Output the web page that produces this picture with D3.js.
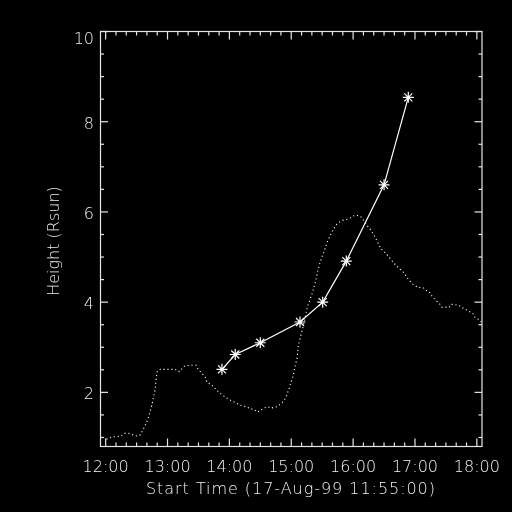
<!DOCTYPE html>
<html>
<head>
<meta charset="utf-8">
<script src="https://cdn.jsdelivr.net/npm/d3@7"></script>
<style>
  body { margin: 0; background: #000; }
  svg { display: block; will-change: transform; }
  text { font-family: "DejaVu Sans", sans-serif; font-weight: 200; fill: #f2f2f2; }
</style>
</head>
<body>
<svg id="chart" width="512" height="512"></svg>
<script>
// minutes after 11:55 start time, heights in Rsun
let trackMin = [117.8, 130.7, 155.0, 193.5, 215.5, 238.4, 275.0, 298.5];
let trackH = [2.51, 2.84, 3.10, 3.56, 4.00, 4.91, 6.60, 8.54];

// dotted profile (scaled to the same axes)
let profMin = [5.8, 9.2, 12.1, 16.0, 19.9, 23.3, 27.2, 30.1, 33.5, 35.9, 38.8, 41.2, 43.6, 45.6, 47.5, 49.0,
  50.2, 51.2, 52.2, 53.2, 53.6, 54.3, 55.1, 58.0, 63.8, 69.6, 74.9, 76.4, 81.3, 87.1, 92.9, 94.3, 97.2,
  99.7, 102.3, 103.3, 106.9, 109.4, 111.7, 114.9, 118.1, 121.4, 124.0, 127.3, 132.1, 134.6, 138.5, 141.8,
  144.0, 149.8, 152.1, 154.7, 157.9, 162.7, 165.1, 170.9, 175.7, 178.0, 179.9, 181.2, 183.1, 184.5, 186.4,
  187.7, 188.6, 189.6, 190.9, 191.2, 191.8, 192.8, 194.4, 196.4, 198.3, 200.6, 202.7, 204.8, 207.1, 208.7,
  210.3, 212.2, 214.5, 216.8, 219.4, 221.6, 224.2, 226.5, 229.1, 233.9, 240.3, 245.2, 248.5, 253.3, 258.2,
  262.1, 266.2, 271.8, 276.9, 280.8, 284.7, 287.9, 290.5, 293.1, 295.3, 297.0, 299.2, 302.8, 305.7, 307.3,
  313.1, 314.7, 318.9, 320.3, 323.8, 326.7, 329.3, 330.9, 334.4, 338.3, 339.7, 343.1, 348.0, 349.4, 354.2,
  356.7, 360.0, 362.3, 363.2, 366.4, 368.8, 369.7];
let profH = [0.96, 1.00, 1.01, 1.02, 1.03, 1.09, 1.09, 1.07, 1.04, 1.03, 1.06, 1.17, 1.28, 1.39, 1.52, 1.65,
  1.76, 1.87, 1.98, 2.09, 2.22, 2.36, 2.47, 2.51, 2.51, 2.51, 2.50, 2.46, 2.58, 2.60, 2.60, 2.53, 2.45,
  2.39, 2.31, 2.22, 2.18, 2.13, 2.07, 2.00, 1.94, 1.89, 1.85, 1.81, 1.76, 1.72, 1.70, 1.68,
  1.65, 1.61, 1.56, 1.59, 1.65, 1.68, 1.65, 1.68, 1.76, 1.82, 1.89, 1.98, 2.09, 2.21, 2.33,
  2.45, 2.57, 2.66, 2.78, 2.89, 3.03, 3.12, 3.27, 3.45, 3.65, 3.89, 4.03, 4.16, 4.33, 4.48,
  4.65, 4.82, 4.99, 5.12, 5.30, 5.42, 5.54, 5.64, 5.73, 5.81, 5.84, 5.91, 5.93, 5.88, 5.71,
  5.60, 5.45, 5.19, 5.08, 4.97, 4.86, 4.79, 4.73, 4.68, 4.62, 4.55, 4.49, 4.40, 4.36, 4.33,
  4.32, 4.27, 4.23, 4.17, 4.07, 4.01, 3.95, 3.89, 3.89, 3.89, 3.95, 3.95, 3.92, 3.89, 3.84,
  3.80, 3.77, 3.72, 3.66, 3.62, 3.57, 3.53];

let xTickMin = [5, 65, 125, 185, 245, 305, 365];
let xTickLabels = ['12:00', '13:00', '14:00', '15:00', '16:00', '17:00', '18:00'];
let yTicks = [2, 4, 6, 8, 10];

let svg = d3.select('#chart');
let pLeft = 100.5, pRight = 482, pTop = 31.5, pBottom = 446.5;
let fg = '#e6e6e6';

let x = d3.scaleLinear().domain([0, 370]).range([pLeft, pRight]);
let y = d3.scaleLinear().domain([0.8, 10]).range([pBottom, pTop]);

// frame
svg.append('rect')
  .attr('x', pLeft).attr('y', pTop)
  .attr('width', pRight - pLeft).attr('height', pBottom - pTop)
  .attr('fill', 'none').attr('stroke', fg).attr('stroke-width', 1.2);

let minorX = d3.range(5, 366, 10);
let minorY = d3.range(1, 10.01, 0.5);

let ticks = svg.append('g').attr('stroke', fg).attr('stroke-width', 1.2);
minorX.forEach(m => {
  let len = xTickMin.includes(m) ? 8 : 4;
  ticks.append('line').attr('x1', x(m)).attr('x2', x(m)).attr('y1', pBottom).attr('y2', pBottom - len);
  ticks.append('line').attr('x1', x(m)).attr('x2', x(m)).attr('y1', pTop).attr('y2', pTop + len);
});
minorY.forEach(v => {
  let len = yTicks.includes(v) ? 7.5 : 3.5;
  ticks.append('line').attr('y1', y(v)).attr('y2', y(v)).attr('x1', pLeft).attr('x2', pLeft + len);
  ticks.append('line').attr('y1', y(v)).attr('y2', y(v)).attr('x1', pRight).attr('x2', pRight - len);
});

// tick labels
svg.append('g').selectAll('text')
  .data(xTickMin)
  .join('text')
  .attr('x', d => x(d))
  .attr('y', 472)
  .attr('text-anchor', 'middle')
  .attr('font-size', 16)
  .text((d, i) => xTickLabels[i]);

svg.append('g').selectAll('text')
  .data(yTicks)
  .join('text')
  .attr('x', 94)
  .attr('y', d => Math.max(y(d) + 1, pTop + 6) + 6)
  .attr('text-anchor', 'end')
  .attr('font-size', 16)
  .text(d => d);

svg.append('text')
  .attr('x', 146).attr('y', 494)
  .attr('font-size', 16)
  .attr('textLength', 289)
  .attr('lengthAdjust', 'spacing')
  .text('Start Time (17-Aug-99 11:55:00)');

svg.append('text')
  .attr('transform', 'translate(59,241) rotate(-90)')
  .attr('text-anchor', 'middle')
  .attr('font-size', 16)
  .text('Height (Rsun)');

// dotted profile
let line = d3.line().x(d => x(d[0])).y(d => y(d[1]));
svg.append('path')
  .datum(profMin.map((m, i) => [m, profH[i]]))
  .attr('d', line)
  .attr('fill', 'none')
  .attr('stroke', '#fff')
  .attr('stroke-width', 1.1)
  .attr('stroke-dasharray', '1.1 2.8');

// height-time track
let track = trackMin.map((m, i) => [m, trackH[i]]);
svg.append('path')
  .datum(track)
  .attr('d', line)
  .attr('fill', 'none')
  .attr('stroke', '#fff')
  .attr('stroke-width', 1.2);

let r = 5.5, rd = 4;
let star = `M${-r},0L${r},0M0,${-r}L0,${r}M${-rd},${-rd}L${rd},${rd}M${-rd},${rd}L${rd},${-rd}`;
svg.append('g').selectAll('path')
  .data(track)
  .join('path')
  .attr('transform', d => `translate(${x(d[0])},${y(d[1])})`)
  .attr('d', star)
  .attr('stroke', '#fff')
  .attr('stroke-width', 1.2)
  .attr('fill', 'none');
</script>
</body>
</html>
